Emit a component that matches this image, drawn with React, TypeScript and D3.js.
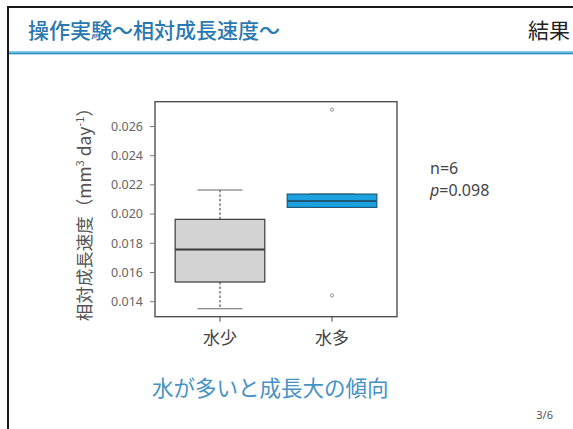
import React from "react";
import * as d3 from "d3";

const categories = ["水少", "水多"];
const lowerWhisker = [0.01352, 0.02046];
const q1 = [0.01535, 0.02046];
const median = [0.01757, 0.02089];
const q3 = [0.01964, 0.02137];
const upperWhisker = [0.02165, 0.02137];
const outliers: number[][] = [[], [0.02715, 0.01443]];
const fills = ["#d3d3d3", "#1ba2df"];
const strokes = ["#3a3a3a", "#1d5a7a"];
const yTicks = [0.014, 0.016, 0.018, 0.02, 0.022, 0.024, 0.026];

const W = 573;
const H = 429;
const JP = "'Noto Sans CJK JP', 'Noto Sans', sans-serif";

export default function App() {
  const left = 155, right = 397, top = 101.7, bottom = 316.7;
  const x = d3.scaleLinear().domain([0.42, 2.58]).range([left, right]);
  const y = d3.scaleLinear().domain([0.012975, 0.027695]).range([bottom, top]);
  const halfBox = x(1.4) - x(1);
  const halfCap = halfBox / 2;
  const fmt = d3.format(".3f");

  return (
    <div style={{ position: "absolute", left: 0, top: 0 }}>
      <svg width={W} height={H} style={{ display: "block", background: "#fff" }}>
        {/* slide frame */}
        <rect x={8} y={7} width={W + 20} height={H + 20} fill="none" stroke="#1a1a1a" strokeWidth={2} />
        {/* header */}
        <text x={28} y={38} fontFamily={JP} fontSize={21} fill="#2a78b0" fontWeight={500}>
          操作実験～相対成長速度～
        </text>
        <text x={570} y={38} textAnchor="end" fontFamily={JP} fontSize={21} fill="#222">
          結果
        </text>
        <rect x={9} y={51} width={W} height={1.5} fill="#7fd0f0" />
        <rect x={9} y={52.5} width={W} height={1.8} fill="#2a8cc4" />

        {/* plot frame */}
        <rect x={left} y={top} width={right - left} height={bottom - top} fill="none" stroke="#444" strokeWidth={1.3} />

        {/* y axis */}
        {yTicks.map((t) => (
          <g key={t}>
            <line x1={left - 5} x2={left} y1={y(t)} y2={y(t)} stroke="#777" strokeWidth={1} />
            <text x={143} y={y(t)} dy="0.35em" textAnchor="end" fontFamily="'Noto Sans', sans-serif" fontSize={12.5} fill="#666">
              {fmt(t)}
            </text>
          </g>
        ))}
        <text
          transform={`translate(85,${(top + bottom) / 2 + 1}) rotate(-90)`}
          textAnchor="middle"
          fontFamily={JP}
          fontSize={17.5}
          fill="#555"
          dy="0.35em"
        >
          相対成長速度（mm<tspan dy="-7" fontSize={11}>3</tspan>
          <tspan dy="7"> day</tspan>
          <tspan dy="-7" fontSize={11}>-1</tspan>
          <tspan dy="7">）</tspan>
        </text>

        {/* x axis */}
        {categories.map((c, i) => (
          <g key={c}>
            <line x1={x(i + 1)} x2={x(i + 1)} y1={bottom} y2={bottom + 5} stroke="#444" strokeWidth={1} />
            <text x={x(i + 1)} y={344} textAnchor="middle" fontFamily={JP} fontSize={17} fill="#444">
              {c}
            </text>
          </g>
        ))}

        {/* boxes */}
        {categories.map((c, i) => {
          const cx = x(i + 1);
          return (
            <g key={"b" + c}>
              <line x1={cx} x2={cx} y1={y(q3[i])} y2={y(upperWhisker[i])} stroke="#333" strokeWidth={1} strokeDasharray="2.5,2" />
              <line x1={cx} x2={cx} y1={y(q1[i])} y2={y(lowerWhisker[i])} stroke="#333" strokeWidth={1} strokeDasharray="2.5,2" />
              <line x1={cx - halfCap} x2={cx + halfCap} y1={y(upperWhisker[i])} y2={y(upperWhisker[i])} stroke="#666" strokeWidth={1.2} />
              <line x1={cx - halfCap} x2={cx + halfCap} y1={y(lowerWhisker[i])} y2={y(lowerWhisker[i])} stroke="#666" strokeWidth={1.2} />
              <rect
                x={cx - halfBox}
                y={y(q3[i])}
                width={halfBox * 2}
                height={y(q1[i]) - y(q3[i])}
                fill={fills[i]}
                stroke={strokes[i]}
                strokeWidth={1.2}
              />
              <line x1={cx - halfBox} x2={cx + halfBox} y1={y(median[i])} y2={y(median[i])} stroke={strokes[i]} strokeWidth={2} />
              {outliers[i].map((o, j) => (
                <circle key={j} cx={cx} cy={y(o)} r={1.6} fill="none" stroke="#777" strokeWidth={0.8} />
              ))}
            </g>
          );
        })}

        {/* stats */}
        <text x={430} y={174} fontFamily="'Noto Sans', sans-serif" fontSize={16} fill="#444">n=6</text>
        <text x={430} y={196} fontFamily="'Noto Sans', sans-serif" fontSize={16} fill="#444">
          <tspan fontStyle="italic">p</tspan>=0.098
        </text>

        {/* conclusion */}
        <text x={152} y={396} fontFamily={JP} fontSize={21.5} fill="#4792c4">
          水が多いと成長大の傾向
        </text>
        <text x={553} y={419} textAnchor="end" fontFamily="'Noto Sans', sans-serif" fontSize={11} fill="#555">
          3/6
        </text>
      </svg>
    </div>
  );
}
